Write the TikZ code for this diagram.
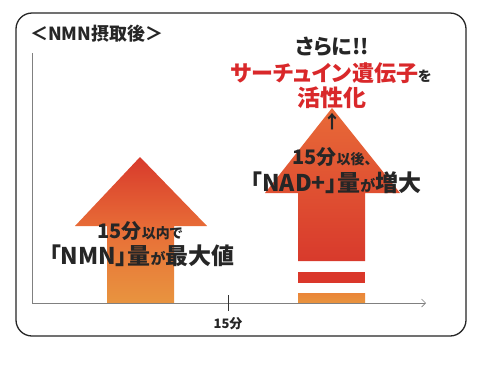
\documentclass[tikz,border=0pt]{standalone}
\usepackage{fontspec}
\newfontfamily\jp{Noto Sans CJK JP}[RawFeature=+palt]
\usetikzlibrary{arrows.meta}
\definecolor{myred}{HTML}{D83A2C}
\definecolor{myorange}{HTML}{E8943F}
\definecolor{midorange}{HTML}{E86E37}
\definecolor{headorange}{HTML}{E86A38}
\definecolor{txtred}{HTML}{D9282A}
\definecolor{axisgray}{HTML}{808080}
\tikzset{
  lbl/.style={inner sep=0pt, font=\jp\bfseries, text=black!85},
  redlbl/.style={inner sep=0pt, font=\jp\bfseries, text=txtred},
}
\newcommand{\fs}[1]{\fontsize{#1}{#1}\selectfont}
\begin{document}
\begin{tikzpicture}[x=1pt,y=-1pt]
\useasboundingbox (0,0) rectangle (489,368);
\fill[white] (0,0) rectangle (489,368);
% frame
\draw[line width=1.3pt, black!85, rounded corners=16pt] (16,13) rectangle (466,336);
% title
\node[lbl, anchor=west] (title) at (30,34) {\fs{18}＜NMN摂取後＞};
% axes
\coordinate (o) at (32,303);
\coordinate (ytop) at (32,53);
\coordinate (xend) at (426,303);
\draw[axisgray, line width=0.7pt] (o) -- (ytop);
% left arrow
\shade[top color=myred, bottom color=myorange, middle color=midorange]
  (107,303) -- (107,226) -- (75,226) -- (140,157) -- (207,226) -- (174,226) -- (174,303) -- cycle;
% right arrow
\shade[top color=headorange, bottom color=myred]
  (298,261) -- (298,193) -- (265,193) -- (332,108) -- (400,193) -- (365,193) -- (365,261) -- cycle;
\fill[myred!95!red] (298,272) rectangle (365,283);
\shade[top color=myorange!90!red, bottom color=myorange] (298,293) rectangle (365,303);
% x axis
\draw[axisgray, line width=0.7pt, -{Straight Barb[length=4pt,width=8pt]}] (o) -- (xend);
\coordinate (tickt) at (228,295);
\coordinate (tickb) at (228,311);
\draw[black!80, line width=0.7pt] (tickt) -- (tickb);
\node[lbl] (t15) at (228,324) {\fs{13}15分};
% left labels
\node[lbl] (l1) at (140,231) {\fs{20}15分\fs{14}以内で};
\node[lbl] (l2) at (142,256) {\fs{23}「NMN」量\fs{15}が\fs{23}最大値};
% right labels
\node[lbl] (r0) at (332,47) {\fs{21}さらに!!};
\node[redlbl] (r1) at (331,73) {\fs{22}サーチュイン遺伝子\textcolor{black!85}{\fs{14}を}};
\node[redlbl] (r2) at (332,98) {\fs{23}活性化};
\node[lbl] (r3) at (332,122) {\fs{18}↑};
\node[lbl] (r4) at (332,157) {\fs{20}15分\fs{14}以後、};
\node[lbl] (r5) at (336,183) {\fs{23}「NAD+」量\fs{15}が\fs{23}増大};
\end{tikzpicture}
\end{document}
